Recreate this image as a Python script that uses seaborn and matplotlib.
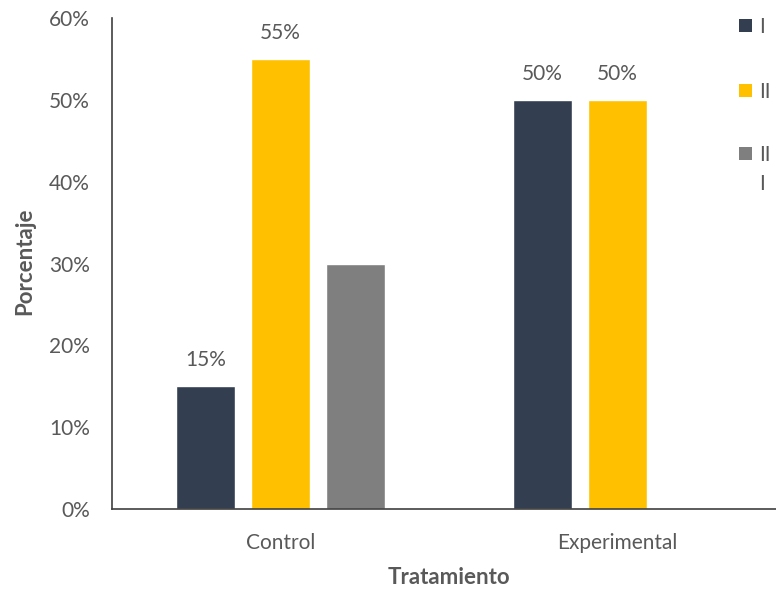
import matplotlib
matplotlib.use("Agg")
import matplotlib.pyplot as plt
import seaborn as sns
import pandas as pd
from matplotlib.patches import Rectangle
from matplotlib.ticker import FuncFormatter

tratamientos = ["Control", "Control", "Control", "Experimental", "Experimental", "Experimental"]
grupos = ["I", "II", "III", "I", "II", "III"]
porcentajes = [15, 55, 30, 50, 50, 0]
grupo_orden = ["I", "II", "III"]
legend_labels = ["I", "II", "II\nI"]
bar_labels = {"I": ["15%", "50%"], "II": ["55%", "50%"], "III": ["", ""]}
y_ticks = [0, 10, 20, 30, 40, 50, 60]

colors = ["#333F50", "#FFC000", "#7F7F7F"]
text_color = "#595959"

sns.set_style("white")
plt.rcParams["font.family"] = ["Lato", "DejaVu Sans"]

df = pd.DataFrame({"Tratamiento": tratamientos, "Grupo": grupos, "Porcentaje": porcentajes})

W, H = 776, 592
fig = plt.figure(figsize=(W / 100, H / 100), dpi=100)
ax = fig.add_axes([112 / W, 83 / H, 674 / W, 491 / H])

sns.barplot(data=df, x="Tratamiento", y="Porcentaje", hue="Grupo", hue_order=grupo_orden,
            palette=colors, width=0.668, gap=0.21, ax=ax, legend=False, saturation=1)

ax.set_ylim(0, 60)
ax.set_xlim(-0.5, 1.5)
ax.set_yticks(y_ticks)
ax.yaxis.set_major_formatter(FuncFormatter(lambda v, p: f"{v:.0f}%"))

for cont, g in zip(ax.containers, grupo_orden):
    ax.bar_label(cont, labels=bar_labels[g], padding=11.5, fontsize=15, color=text_color)

for s in ["top", "right"]:
    ax.spines[s].set_visible(False)
for s in ["left", "bottom"]:
    ax.spines[s].set_color("#404040")
    ax.spines[s].set_linewidth(1.2)

ax.tick_params(axis="both", length=0, labelsize=15, labelcolor=text_color)
ax.tick_params(axis="x", pad=17)
ax.tick_params(axis="y", pad=16)

ax.set_xlabel("Tratamiento", fontsize=16, fontweight="bold", color=text_color, va="center")
ax.set_ylabel("Porcentaje", fontsize=16, fontweight="bold", color=text_color, va="center")
ax.xaxis.set_label_coords((449 - 112) / 674, -(578 - 509) / 491)
ax.yaxis.set_label_coords(-(112 - 25) / 674, (509 - 261) / 491)

# legend (drawn manually to mimic the wrapped third label)
leg_y = [25, 90, 153]
for c, lab, yc in zip(colors, legend_labels, leg_y):
    fig.patches.append(Rectangle(((739) / W, 1 - (yc + 6.5) / H), 13 / W, 13 / H,
                                 transform=fig.transFigure, facecolor=c, edgecolor="none"))
    fig.text(759 / W, 1 - (yc - 8) / H, lab, ha="left", va="top", fontsize=15,
             color=text_color, linespacing=1.55)

fig.savefig("out.png", dpi=100)
